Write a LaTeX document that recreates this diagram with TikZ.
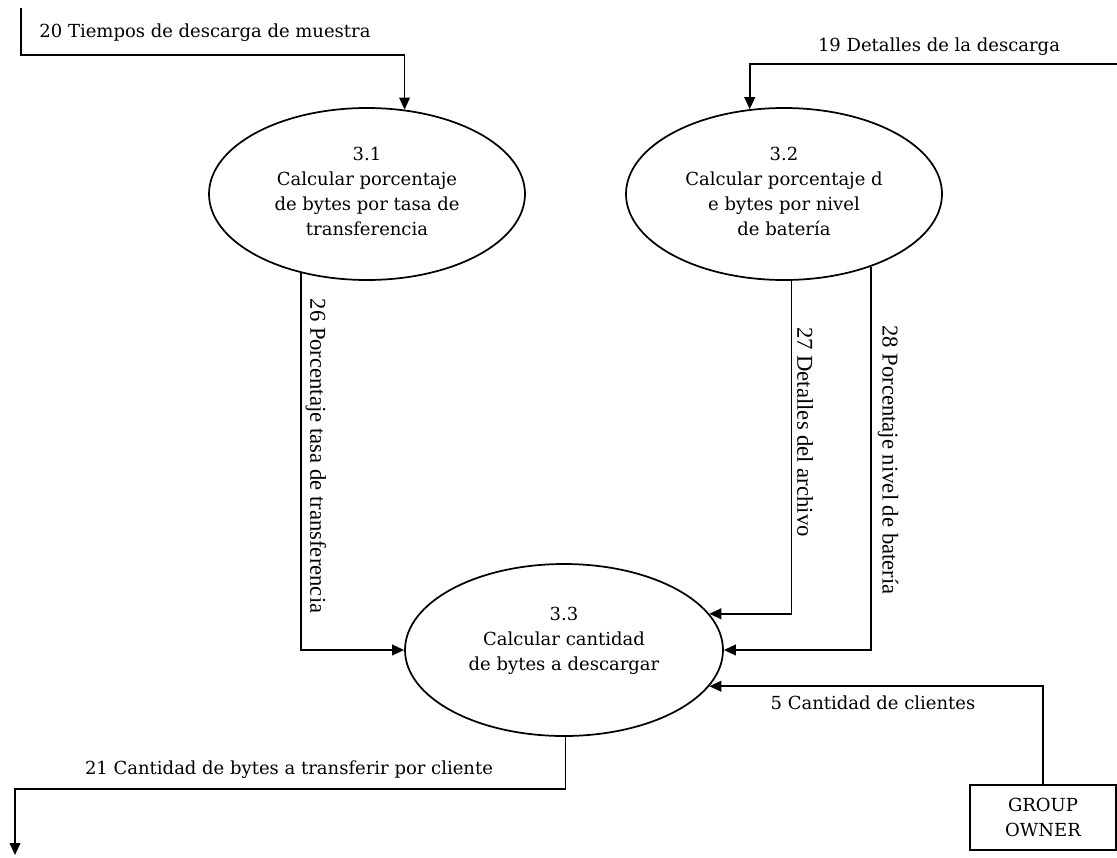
\documentclass[tikz,border=0pt]{standalone}
\usepackage{fontspec}
\setmainfont{DejaVu Serif}
\newfontfamily\flowfont{Liberation Serif}
\usetikzlibrary{arrows.meta,shapes.geometric}
\begin{document}
\begin{tikzpicture}[x=0.75pt,y=-0.75pt,
  proc/.style={draw, ellipse, line width=1.3pt, minimum width=237pt, minimum height=129pt, inner sep=0pt},
  ptext/.style={align=center, font=\fontsize{13.5}{18.75}\selectfont, inner sep=0pt},
  entity/.style={draw, rectangle, line width=1.3pt, minimum width=109.5pt, minimum height=48.75pt,
    align=center, font=\fontsize{13.5}{18.75}\selectfont, inner sep=0pt},
  flow/.style={draw, line width=1.3pt, -{Triangle[length=9pt,width=8pt]}},
  hlabel/.style={font=\fontsize{13.5}{16}\selectfont, inner sep=0pt},
  vlabel/.style={font=\flowfont\fontsize{17}{20}\selectfont, rotate=-90, inner sep=0pt}]
\useasboundingbox (0,0) rectangle (1117,857);

% processes
\node[proc] (e31) at (367,194) {};
\node[ptext] (t31) at (367,191) {3.1\\Calcular porcentaje\\de bytes por tasa de\\transferencia};
\node[proc] (e32) at (784,194) {};
\node[ptext] (t32) at (784,191) {3.2\\Calcular porcentaje d\\e bytes por nivel\\de batería};
\node[proc, minimum width=238.5pt] (e33) at (564,650) {};
\node[ptext] (t33) at (564,641) {3.3\\Calcular cantidad\\de bytes a descargar};

% external entity
\node[entity] (go) at (1043,817.5) {GROUP\\OWNER};

% free ends of the flows
\coordinate (s20) at (21,8);
\coordinate (k20) at (21,55);
\coordinate (s19) at (1117,64);
\coordinate (k21) at (15,789);
\coordinate (o21) at (15,855);

% data flows
\draw[flow] (s20) -- (k20) -| (e31.66.7);
\draw[flow] (s19) -| (e32.112.6);
\draw[flow] (e31.230.3) |- (e33.west);
\draw[flow] (e32.-85.3) |- (e33.14.9);
\draw[flow] (e32.-40.5) |- (e33.east);
\draw[flow] (go.north) |- (e33.-14.5);
\draw[flow] (e33.-89) |- (k21) -- (o21);

% flow labels
\node[hlabel] (l20) at (205,33) {20 Tiempos de descarga de muestra};
\node[hlabel] (l19) at (939,47) {19 Detalles de la descarga};
\node[vlabel] (l26) at (316,456) {26 Porcentaje tasa de transferencia};
\node[vlabel] (l27) at (805,432) {27 Detalles del archivo};
\node[vlabel] (l28) at (888,460) {28 Porcentaje nivel de batería};
\node[hlabel] (l5) at (873,703) {5 Cantidad de clientes};
\node[hlabel] (l21) at (289,770) {21 Cantidad de bytes a transferir por cliente};
\end{tikzpicture}
\end{document}
